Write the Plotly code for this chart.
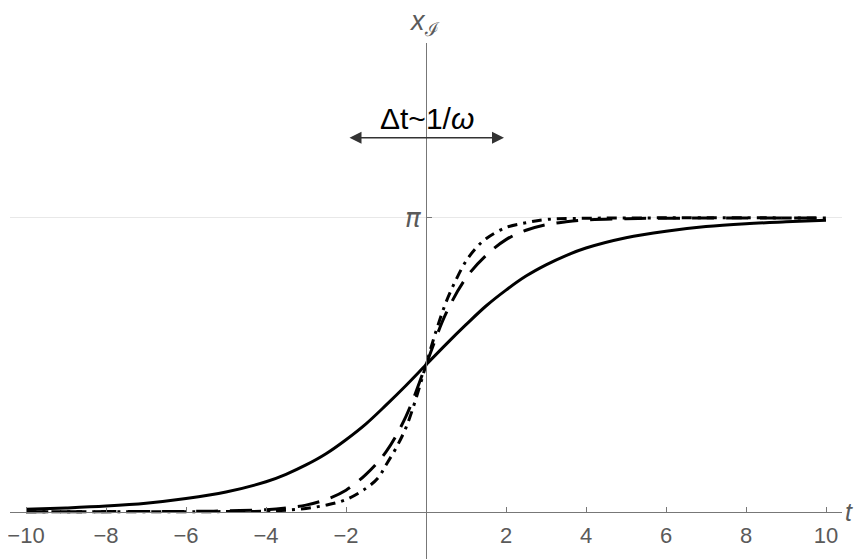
import plotly.graph_objects as go

# curve values (x_I against t)
t_solid = [-10, -9, -8, -7, -6, -5, -4, -3.5, -3, -2.5, -2, -1.5, -1, -0.5, 0,
           0.5, 1, 1.5, 2, 2.5, 3, 3.5, 4, 5, 6, 7, 8, 9, 10]
x_solid = [0.025, 0.04, 0.06, 0.09, 0.14, 0.21, 0.32, 0.40, 0.50, 0.62, 0.77, 0.94, 1.14, 1.35, 1.571,
           1.79, 2.00, 2.20, 2.37, 2.52, 2.64, 2.74, 2.82, 2.93, 3.00, 3.05, 3.08, 3.10, 3.117]

t_dashed = [-10, -6, -5, -4, -3.5, -3, -2.5, -2, -1.5, -1, -0.5, 0,
            0.5, 1, 1.5, 2, 2.5, 3, 3.5, 4, 5, 6, 10]
x_dashed = [0.0, 0.003, 0.008, 0.022, 0.04, 0.07, 0.13, 0.23, 0.40, 0.64, 1.02, 1.571,
            2.12, 2.50, 2.74, 2.91, 3.01, 3.07, 3.10, 3.12, 3.134, 3.139, 3.1416]

t_dashdot = [-10, -5, -4, -3.5, -3, -2.5, -2, -1.5, -1.2, -1, -0.75, -0.5, -0.25, 0,
             0.25, 0.5, 0.75, 1, 1.25, 1.5, 2, 2.5, 3, 4, 10]
x_dashdot = [0.0, 0.001, 0.005, 0.015, 0.035, 0.07, 0.13, 0.25, 0.36, 0.50, 0.68, 0.90, 1.21, 1.571,
             1.93, 2.24, 2.48, 2.68, 2.82, 2.92, 3.04, 3.09, 3.125, 3.138, 3.1416]

x_ticks = [-10, -8, -6, -4, -2, 2, 4, 6, 8, 10]
x_ticktext = ["\u221210", "\u22128", "\u22126", "\u22124", "\u22122", "2", "4", "6", "8", "10"]
y_ticks = [3.14159]
y_ticktext = ["<i>\u03c0</i>"]

x_range = [-10.4, 10.4]
y_range = [-0.506, 5.013]
gray = "#5a5a5a"

fig = go.Figure()
fig.add_trace(go.Scatter(x=t_solid, y=x_solid, mode="lines", line_shape="spline",
                         line=dict(color="black", width=3)))
fig.add_trace(go.Scatter(x=t_dashed, y=x_dashed, mode="lines", line_shape="spline",
                         line=dict(color="black", width=3, dash="22px,12px")))
fig.add_trace(go.Scatter(x=t_dashdot, y=x_dashdot, mode="lines", line_shape="spline",
                         line=dict(color="black", width=3, dash="10px,6px,3px,6px")))

# axes cross at the origin
x_pos = (0 - y_range[0]) / (y_range[1] - y_range[0])
y_pos = (0 - x_range[0]) / (x_range[1] - x_range[0])

fig.update_xaxes(range=x_range, anchor="free", position=x_pos, showline=True, automargin=False,
                 linecolor="#777777", linewidth=1.2, showgrid=False, zeroline=False,
                 ticks="inside", ticklen=5, tickcolor="#777777", tickvals=x_ticks,
                 ticktext=x_ticktext, ticklabelstandoff=4, ticklabeloverflow="allow",
                 tickfont=dict(family="Liberation Sans, Arial", size=22, color=gray))
fig.update_yaxes(range=y_range, anchor="free", position=y_pos, showline=True, automargin=False,
                 linecolor="#777777", linewidth=1.2, showgrid=True, gridcolor="#e8e8e8",
                 zeroline=False, ticks="inside", ticklen=5, tickcolor="#777777",
                 tickvals=y_ticks, ticktext=y_ticktext, ticklabeloverflow="allow",
                 tickfont=dict(family="DejaVu Sans", size=26, color=gray))

fig.add_annotation(x=1.009, xref="paper", y=0, yref="y", xanchor="center", yanchor="middle",
                   text="<i>t</i>", showarrow=False,
                   font=dict(family="Liberation Sans, Arial", size=25, color=gray))
fig.add_annotation(x=-0.48, xref="x", y=1.039, yref="paper", xanchor="left", yanchor="middle",
                   text="<i>x</i><sub>\u2110</sub>", showarrow=False,
                   font=dict(family="Liberation Sans, Arial", size=27, color=gray))
fig.add_annotation(x=0.02, y=4.21, text="\u0394t~1/<i>\u03c9</i>", showarrow=False,
                   font=dict(family="Liberation Sans, Arial", size=30, color="black"))
fig.add_annotation(x=1.95, y=4.0, ax=-1.95, ay=4.0, axref="x", ayref="y", text="",
                   showarrow=True, arrowside="end+start", arrowhead=2, arrowsize=1.6,
                   arrowwidth=1.5, arrowcolor="#333333", standoff=0, startstandoff=0)

# the page body adds an 8px offset, so margins are shifted to compensate
fig.update_layout(width=864, height=559,
                  margin=dict(l=2, r=30, t=35, b=8, autoexpand=False),
                  plot_bgcolor="white", paper_bgcolor="white", showlegend=False)

fig.write_html("out.html")
